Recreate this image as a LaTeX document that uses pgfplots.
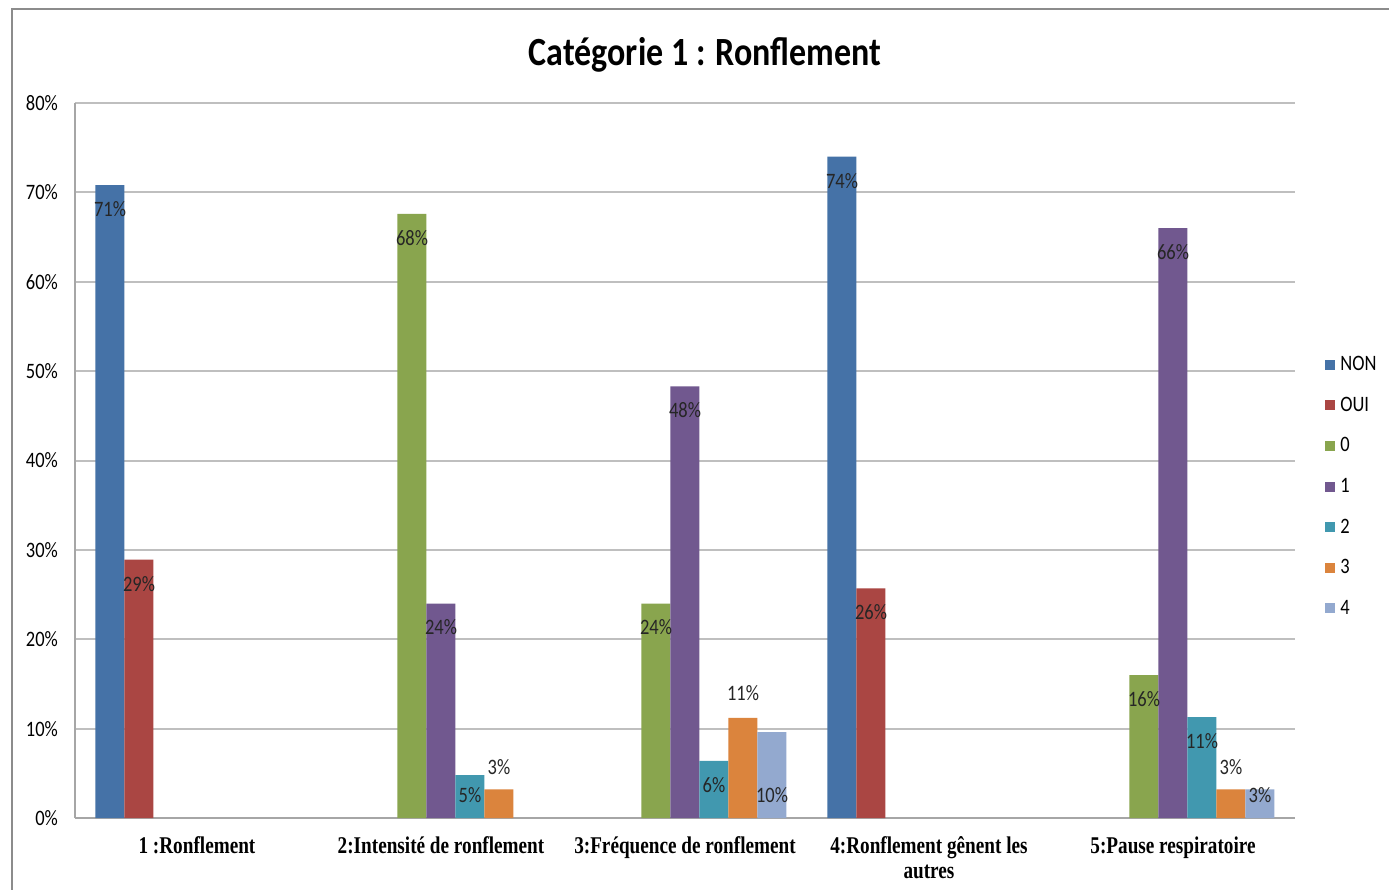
\documentclass[border=0pt]{standalone}
\usepackage{pgfplots}
\pgfplotsset{compat=1.18}
\usepackage{pgfplotstable}
\usepackage{fontspec}
\setmainfont{Carlito}[FakeStretch=0.84]
\newfontfamily\titlefont{Carlito}[FakeStretch=0.85]
\newfontfamily\catfont{Liberation Serif}[FakeStretch=0.8]

\definecolor{cNON}{HTML}{4572A7}
\definecolor{cOUI}{HTML}{AA4643}
\definecolor{cZero}{HTML}{89A54E}
\definecolor{cOne}{HTML}{71588F}
\definecolor{cTwo}{HTML}{4198AF}
\definecolor{cThree}{HTML}{DB843D}
\definecolor{cFour}{HTML}{93A9CF}
\definecolor{gridgray}{HTML}{BFBFBF}
\definecolor{axisgray}{HTML}{A6A6A6}
\definecolor{framegray}{HTML}{8C8C8C}

% x = category index, y = percent, dy = label offset (pt)
\pgfplotstableread{
x y dy
0 70.8 -12
3 74.0 -12
}\tNON
\pgfplotstableread{
x y dy
0 28.9 -12
3 25.7 -12
}\tOUI
\pgfplotstableread{
x y dy
1 67.6 -12
2 24.0 -12
4 16.0 -12
}\tZero
\pgfplotstableread{
x y dy
1 24.0 -12
2 48.3 -12
4 66.0 -12
}\tOne
\pgfplotstableread{
x y dy
1 4.8 -10
2 6.4 -12
4 11.3 -12
}\tTwo
\pgfplotstableread{
x y dy
1 3.2 11
2 11.2 12.5
4 3.2 11
}\tThree
\pgfplotstableread{
x y dy
2 9.6 -31.5
4 3.2 -3
}\tFour

\begin{document}
\begin{tikzpicture}
\useasboundingbox (-37.5pt,-36pt) rectangle (657pt,409pt);
\fill[white] (-37.5pt,-36pt) rectangle (657pt,409pt);
\draw[draw=framegray, line width=1pt] (-31.5pt,-50pt) -- (-31.5pt,404.5pt) -- (700pt,404.5pt);
\node[font=\titlefont\bfseries\fontsize{20}{24}\selectfont] at (315pt,381.5pt) {Catégorie 1 : Ronflement};
\begin{axis}[
  at={(0,0)}, anchor=south west,
  scale only axis, width=610pt, height=357.5pt,
  /pgf/number format/assume math mode=true,
  ybar=0pt, bar width=14.5pt,
  xmin=-0.5, xmax=4.5, ymin=0, ymax=80,
  xtick={0,1,2,3,4},
  xticklabels={{1 :Ronflement},{2:Intensité de ronflement},{3:Fréquence de ronflement},{4:Ronflement gênent les\\autres},{5:Pause respiratoire}},
  xticklabel style={align=center, font=\catfont\bfseries\fontsize{12}{12.5}\selectfont, yshift=-6pt},
  ytick={0,10,20,30,40,50,60,70,80},
  yticklabel={\pgfmathprintnumber{\tick}\%},
  yticklabel style={font=\fontsize{11}{13}\selectfont, xshift=-5pt},
  major tick length=0pt,
  ymajorgrids,
  grid style={draw=gridgray, line width=1pt},
  separate axis lines,
  axis x line*=bottom, axis y line*=left,
  axis line style={draw=axisgray, line width=1pt},
  nodes near coords={\pgfmathprintnumber[fixed,precision=0]{\pgfplotspointmeta}\%},
  visualization depends on={\thisrow{dy} \as \dy},
  every node near coord/.append style={anchor=center, yshift=\dy pt, font=\fontsize{11}{13}\selectfont, text=black!85},
  legend style={at={(rel axis cs:1,0.5)}, anchor=west, xshift=12pt, yshift=-13pt,
    draw=none, fill=none, font=\fontsize{11}{13}\selectfont, row sep=8.3pt,
    nodes={inner sep=1pt, text height=8pt, text depth=2pt}},
  legend cell align=left,
  legend image code/.code={\fill[#1] (0pt,-2.5pt) rectangle (5pt,2.5pt); \path (6.5pt,0pt);},
]
\addplot[fill=cNON, draw=none] table[x=x,y=y] {\tNON};
\addplot[fill=cOUI, draw=none] table[x=x,y=y] {\tOUI};
\addplot[fill=cZero, draw=none] table[x=x,y=y] {\tZero};
\addplot[fill=cOne, draw=none] table[x=x,y=y] {\tOne};
\addplot[fill=cTwo, draw=none] table[x=x,y=y] {\tTwo};
\addplot[fill=cThree, draw=none] table[x=x,y=y] {\tThree};
\addplot[fill=cFour, draw=none] table[x=x,y=y] {\tFour};
\legend{NON,OUI,0,1,2,3,4}
\end{axis}
\end{tikzpicture}
\end{document}
